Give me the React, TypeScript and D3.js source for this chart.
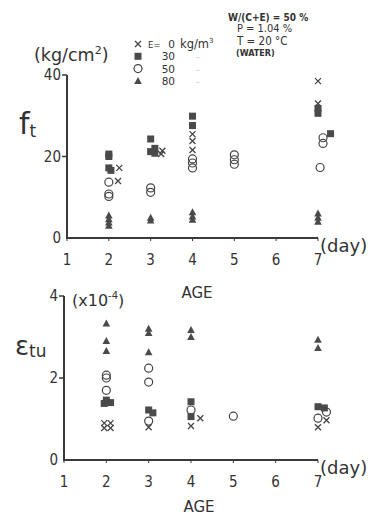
import React, { useEffect, useRef } from "react";
import * as d3 from "d3";

// age (day), value; small age offsets are the figure's own side-shifts
const ftE0 = [[2.25, 17.2], [2.22, 14.0], [3.28, 21.4], [3.25, 20.6], [4, 25.5], [4, 23.8], [4, 21.6], [7, 38.5], [7, 33.0]];
const ftE30 = [[2, 20.6], [2, 20.0], [2, 17.2], [2.05, 16.6], [3, 24.3], [3.1, 22.0], [3, 21.2], [3.1, 20.8], [4, 29.9], [4, 27.6], [7, 31.8], [7, 30.6], [7.3, 25.6]];
const ftE50 = [[2, 13.7], [2, 10.8], [2, 10.2], [3, 12.3], [3, 11.2], [4, 19.4], [4, 18.4], [4, 17.2], [5, 20.4], [5, 19.2], [5, 18.1], [7.12, 24.6], [7.12, 23.2], [7.05, 17.3]];
const ftE80 = [[2, 5.5], [2, 4.6], [2, 3.8], [2, 3.0], [3, 5.0], [3, 4.3], [4, 6.3], [4, 5.3], [4, 4.5], [7, 6.0], [7, 5.0], [7, 4.0]];

const etE0 = [[1.95, 0.9], [2.1, 0.9], [1.95, 0.78], [2.1, 0.78], [3, 0.8], [4.22, 1.02], [4, 0.83], [7.2, 0.97], [7, 0.8]];
const etE30 = [[2, 1.46], [2.1, 1.4], [1.95, 1.38], [3, 1.22], [3.1, 1.15], [4, 1.42], [4, 1.06], [7, 1.3], [7.15, 1.27]];
const etE50 = [[2, 2.07], [2, 2.0], [2, 1.7], [3, 2.24], [3, 1.9], [3, 0.95], [4, 1.22], [5, 1.07], [7, 1.02], [7.2, 1.17]];
const etE80 = [[2, 3.33], [2, 2.9], [2, 2.66], [3, 3.2], [3, 3.1], [3, 2.63], [4, 3.17], [4, 3.0], [7, 2.93], [7, 2.73]];

const ageTicks = [1, 2, 3, 4, 5, 6, 7];
const ftTicks = [0, 20, 40];
const etTicks = [0, 2, 4];
const legendLabels = ["0", "30", "50", "80"];
const noteLines = ["W/(C+E) = 50 %", "P = 1.04 %", "T = 20 °C", "(WATER)"];

const ink = "#333";
const font = "'DejaVu Sans Condensed', 'Liberation Sans Narrow', sans-serif";
const sans = "'DejaVu Sans', sans-serif";

const App = () => {
  const ref = useRef(null);

  useEffect(() => {
    const svg = d3.select(ref.current);
    svg.selectAll("*").remove();

    const drawMarker = (g, kind, x, y) => {
      if (kind === "x") {
        g.append("path")
          .attr("d", `M${x - 3},${y - 3}L${x + 3},${y + 3}M${x - 3},${y + 3}L${x + 3},${y - 3}`)
          .attr("stroke", "#444").attr("stroke-width", 1.3).attr("fill", "none");
      } else if (kind === "sq") {
        g.append("rect").attr("x", x - 3.5).attr("y", y - 3.5).attr("width", 7).attr("height", 7).attr("fill", "#4a4a4a");
      } else if (kind === "o") {
        g.append("circle").attr("cx", x).attr("cy", y).attr("r", 4).attr("fill", "none").attr("stroke", "#444").attr("stroke-width", 1.2);
      } else {
        g.append("path").attr("d", `M${x},${y - 4}L${x + 3.8},${y + 3}L${x - 3.8},${y + 3}Z`).attr("fill", "#4a4a4a");
      }
    };

    const panel = (x, y, ticks, series) => {
      const g = svg.append("g");
      // axes
      g.append("path")
        .attr("d", `M${x.range()[0]},${y.range()[1]}V${y.range()[0]}H${x.range()[1]}`)
        .attr("fill", "none").attr("stroke", "#3a3a3a").attr("stroke-width", 2);
      ticks.forEach((t) => {
        if (t !== 0) {
          g.append("line").attr("x1", x.range()[0] - 5).attr("x2", x.range()[0]).attr("y1", y(t)).attr("y2", y(t))
            .attr("stroke", "#3a3a3a").attr("stroke-width", 1.5);
        }
        g.append("text").attr("x", x.range()[0] - 6).attr("y", y(t) + 5).attr("text-anchor", "end")
          .attr("font-size", 15).attr("fill", ink).text(t);
      });
      ageTicks.forEach((a) => {
        g.append("line").attr("x1", x(a)).attr("x2", x(a)).attr("y1", y.range()[0]).attr("y2", y.range()[0] + 3)
          .attr("stroke", "#3a3a3a").attr("stroke-width", 1);
        g.append("text").attr("x", x(a)).attr("y", y.range()[0] + 27).attr("text-anchor", "middle")
          .attr("font-size", 15).attr("fill", ink).text(a);
      });
      g.append("text").attr("x", x.range()[1] + 2).attr("y", y.range()[0] + 14).attr("font-size", 18)
        .attr("font-family", sans).attr("fill", ink).text("(day)");
      series.forEach(([kind, data]) => {
        data.forEach((d) => drawMarker(g, kind, x(d[0]), y(d[1])));
      });
    };

    const x1 = d3.scaleLinear().domain([1, 7]).range([67, 318]);
    const y1 = d3.scaleLinear().domain([0, 40]).range([238, 75]);
    panel(x1, y1, ftTicks, [["o", ftE50], ["x", ftE0], ["tri", ftE80], ["sq", ftE30]]);

    const x2 = d3.scaleLinear().domain([1, 7]).range([64, 318]);
    const y2 = d3.scaleLinear().domain([0, 4]).range([460, 296]);
    panel(x2, y2, etTicks, [["o", etE50], ["x", etE0], ["tri", etE80], ["sq", etE30]]);

    // axis titles
    svg.append("text").attr("x", 34).attr("y", 61).attr("font-size", 17.5).attr("font-family", sans).attr("fill", ink)
      .html("(kg/cm<tspan dy='-7' font-size='11'>2</tspan><tspan dy='7'>)</tspan>");
    svg.append("text").attr("x", 19).attr("y", 134).attr("font-size", 30).attr("font-family", sans).attr("fill", ink)
      .html("f<tspan font-size='17' dy='3'>t</tspan>");
    svg.append("text").attr("x", 72).attr("y", 306).attr("font-size", 16).attr("font-family", sans).attr("fill", ink)
      .html("(x10<tspan dy='-7' font-size='10'>-4</tspan><tspan dy='7'>)</tspan>");
    svg.append("text").attr("x", 15).attr("y", 355).attr("font-size", 26).attr("font-family", sans).attr("fill", ink)
      .html("ε<tspan font-size='17' dy='2'>tu</tspan>");
    svg.append("text").attr("x", 197).attr("y", 298).attr("text-anchor", "middle").attr("font-size", 15).attr("font-family", sans).attr("fill", ink).text("AGE");
    svg.append("text").attr("x", 199).attr("y", 512).attr("text-anchor", "middle").attr("font-size", 15).attr("font-family", sans).attr("fill", ink).text("AGE");

    // legend
    const lg = svg.append("g");
    const kinds = ["x", "sq", "o", "tri"];
    kinds.forEach((k, i) => {
      const ly = 44 + i * 12.3;
      drawMarker(lg, k, 138, ly);
      lg.append("text").attr("x", 175).attr("y", ly + 4).attr("text-anchor", "end")
        .attr("font-size", 10.5).attr("font-family", sans).attr("fill", ink).text(legendLabels[i]);
      if (i > 0) lg.append("text").attr("x", 196).attr("y", ly + 2).attr("font-size", 6).attr("fill", "#777").text("..");
    });
    lg.append("text").attr("x", 148).attr("y", 48).attr("font-size", 9.5).attr("font-family", font).attr("fill", ink).text("E=");
    lg.append("text").attr("x", 180).attr("y", 48).attr("font-size", 11.5).attr("font-family", sans).attr("fill", ink)
      .html("kg/m<tspan dy='-5' font-size='7'>3</tspan>");

    // test conditions
    const nx = [228, 237, 237, 236];
    const ny = [21, 32, 45, 56];
    const ns = [10, 11, 11.5, 9];
    noteLines.forEach((t, i) => {
      svg.append("text").attr("x", nx[i]).attr("y", ny[i]).attr("font-size", ns[i]).attr("font-family", font)
        .attr("font-weight", i === 0 || i === 3 ? "bold" : "normal").attr("fill", ink).text(t);
    });
  }, []);

  return (
    <svg ref={ref} width={376} height={515} fontFamily={font}
      style={{ position: "absolute", left: 0, top: 0, background: "#fff" }} />
  );
};

export default App;
